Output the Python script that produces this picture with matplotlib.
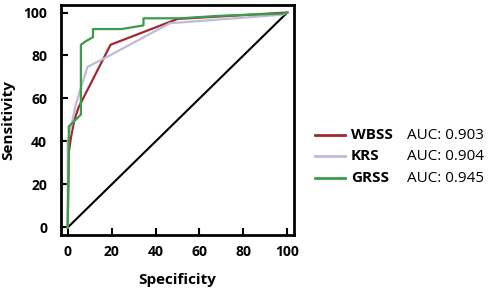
import matplotlib.pyplot as plt
from matplotlib.lines import Line2D

# ROC curves (x = specificity axis, y = sensitivity)
wbss_x = [0, 0.5, 1.5, 3, 5, 19.5, 50, 100]
wbss_y = [0, 35, 42, 50, 56, 85, 97, 100]

krs_x = [0, 0, 2, 3.6, 9, 18, 46.5, 98, 100]
krs_y = [0, 40, 49, 57, 74.7, 79.4, 95, 99, 100]

grss_x = [0, 0.5, 0.5, 6, 6, 8, 11.5, 11.5, 24.5, 34.5, 34.5, 51, 70, 98, 100]
grss_y = [0, 42, 47, 52.5, 85, 86.5, 88.5, 92.3, 92.3, 94, 97.3, 97.3, 98.5, 99.5, 100]

names = ['WBSS', 'KRS', 'GRSS']
aucs = ['AUC: 0.903', 'AUC: 0.904', 'AUC: 0.945']
colors = ['#a3282e', '#bdbdda', '#3d9b4c']

ticks = [0, 20, 40, 60, 80, 100]

plt.rcParams['font.family'] = ['Open Sans', 'DejaVu Sans']

fig = plt.figure(figsize=(4.89, 2.93), dpi=100)
ax = fig.add_axes([0.125, 0.198, 0.476, 0.785])

# reference diagonal
ax.plot([0, 100], [0, 100], color='black', lw=1.5, zorder=1)

series = [(wbss_x, wbss_y), (krs_x, krs_y), (grss_x, grss_y)]
# draw KRS first so the others sit on top
for i in [1, 0, 2]:
    xs, ys = series[i]
    ax.plot(xs, ys, color=colors[i], lw=1.6, zorder=2 + i)

ax.set_xlim(-3, 103)
ax.set_ylim(-3.5, 103.5)
ax.set_xticks(ticks)
ax.set_yticks(ticks)
ax.tick_params(direction='in', length=5, width=1.5, labelsize=10)
ax.tick_params(axis='y', pad=10)
ax.tick_params(axis='x', pad=7)
for lab in ax.get_xticklabels() + ax.get_yticklabels():
    lab.set_fontweight('bold')
for s in ax.spines.values():
    s.set_linewidth(2)

ax.set_xlabel('Specificity', fontsize=11, fontweight='bold', labelpad=10)
ax.set_ylabel('Sensitivity', fontsize=11, fontweight='bold', labelpad=6)

# legend on the right
ys_leg = [0.539, 0.466, 0.392]
for name, auc, c, yy in zip(names, aucs, colors, ys_leg):
    fig.add_artist(Line2D([0.644, 0.706], [yy, yy], color=c, lw=2))
    fig.text(0.718, yy, name, fontsize=11, fontweight='bold', va='center')
    fig.text(0.832, yy, auc, fontsize=11, va='center')

fig.savefig('out.png', dpi=100)
